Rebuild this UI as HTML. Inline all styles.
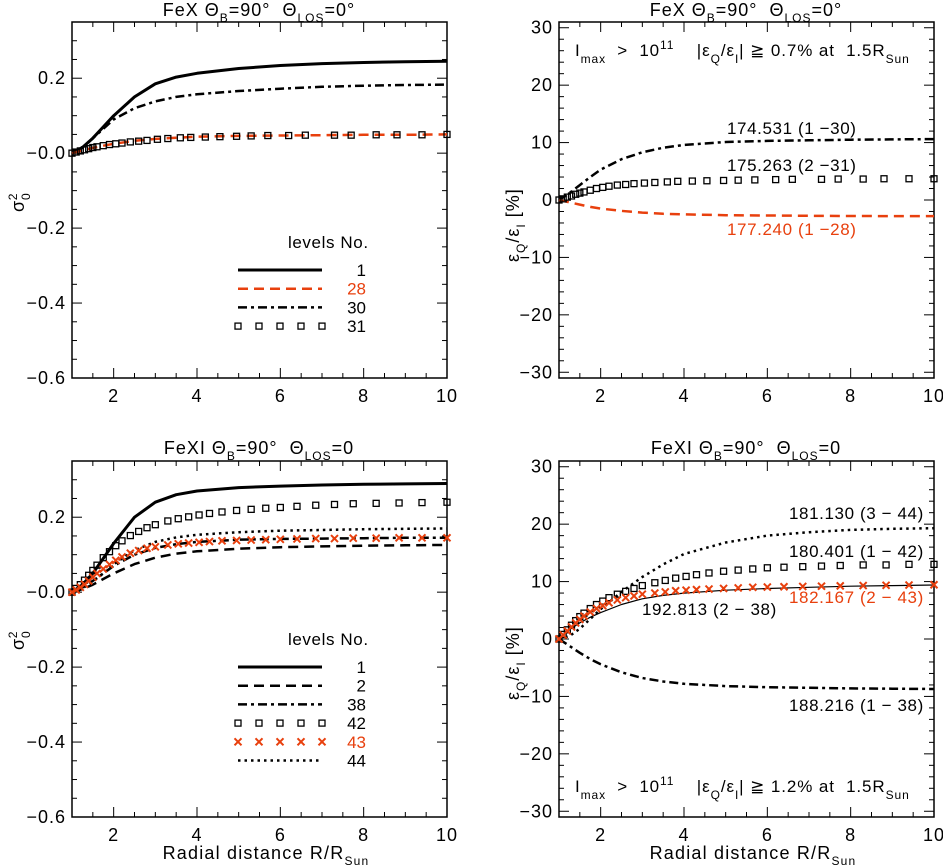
<!DOCTYPE html>
<html><head><meta charset="utf-8"><style>
html,body{margin:0;padding:0;background:#fff;}
svg{display:block;font-family:"Liberation Sans",sans-serif;}
svg text{white-space:pre;}
</style></head><body>
<svg id="fig" width="943" height="868" viewBox="0 0 943 868" xmlns="http://www.w3.org/2000/svg"></svg>
<script>
// ---------- data ----------
const xGrid = [1,1.25,1.5,1.75,2,2.5,3,3.5,4,5,6,7,8,9,10];
const mkX = [1,1.1,1.2,1.3,1.4,1.5,1.6,1.75,1.9,2.05,2.2,2.4,2.6,2.8,3.05,3.3,3.6,3.85,4.2,4.55,4.95,5.3,5.7,6.2,6.6,7.3,7.7,8.3,8.8,9.4,10];
const mkX2 = [1,1.1,1.2,1.3,1.4,1.5,1.6,1.75,1.9,2.05,2.2,2.4,2.6,2.8,3.0,3.3,3.55,3.8,4.05,4.3,4.6,4.95,5.3,5.65,6.0,6.4,6.85,7.3,7.75,8.3,8.85,9.4,10];

// top-left (FeX sigma)
const tl_lvl1  = [0,0.015,0.04,0.07,0.1,0.15,0.185,0.203,0.213,0.226,0.234,0.239,0.242,0.244,0.245];
const tl_lvl28 = [0,0.007,0.014,0.02,0.025,0.033,0.038,0.041,0.044,0.046,0.047,0.048,0.049,0.049,0.05];
const tl_lvl30 = [0,0.015,0.04,0.065,0.09,0.12,0.138,0.15,0.157,0.166,0.172,0.177,0.18,0.182,0.183];
const tl_sq = [0,0.003,0.006,0.009,0.012,0.015,0.017,0.02,0.023,0.025,0.027,0.03,0.032,0.034,0.037,0.039,0.041,0.042,0.043,0.044,0.045,0.046,0.047,0.047,0.048,0.048,0.048,0.049,0.049,0.049,0.05];

// top-right (FeX polarization %)
const tr_174 = [0,1.2,2.6,4.0,5.3,7.1,8.3,9.1,9.6,10.1,10.3,10.4,10.5,10.55,10.6];
const tr_177 = [0,-0.4,-0.8,-1.2,-1.5,-1.9,-2.2,-2.4,-2.5,-2.65,-2.7,-2.75,-2.78,-2.8,-2.8];
const tr_sq = [0,0.2,0.5,0.7,1.0,1.2,1.4,1.7,2.0,2.2,2.4,2.6,2.7,2.85,2.95,3.05,3.15,3.25,3.3,3.35,3.4,3.45,3.5,3.55,3.6,3.6,3.65,3.65,3.7,3.7,3.7];

// bottom-left (FeXI sigma)
const bl_lvl1  = [0,0.02,0.05,0.09,0.13,0.2,0.24,0.26,0.27,0.279,0.283,0.286,0.288,0.289,0.29];
const bl_lvl2  = [0,0.008,0.02,0.035,0.05,0.075,0.092,0.103,0.109,0.116,0.12,0.122,0.124,0.125,0.126];
const bl_lvl38 = [0,0.012,0.03,0.05,0.07,0.1,0.118,0.128,0.134,0.14,0.142,0.143,0.144,0.145,0.145];
const bl_lvl44 = [0,0.01,0.028,0.05,0.075,0.112,0.134,0.146,0.153,0.16,0.164,0.166,0.168,0.169,0.17];
const bl_sq = [0,0.01,0.02,0.032,0.045,0.058,0.072,0.092,0.108,0.124,0.137,0.151,0.162,0.172,0.18,0.19,0.196,0.201,0.206,0.21,0.214,0.218,0.221,0.224,0.226,0.229,0.232,0.234,0.236,0.237,0.238,0.239,0.24];
const bl_x  = [0,0.006,0.013,0.021,0.03,0.04,0.05,0.062,0.074,0.085,0.094,0.104,0.111,0.117,0.121,0.126,0.129,0.131,0.133,0.135,0.137,0.138,0.139,0.14,0.141,0.142,0.143,0.143,0.144,0.144,0.145,0.145,0.145];

// bottom-right (FeXI polarization %)
const br_181 = [0,0.5,1.8,3.5,5.2,8.2,10.8,13,14.8,16.8,18,18.6,19,19.2,19.3];
const br_188 = [0,-1.2,-2.4,-3.5,-4.4,-5.8,-6.8,-7.4,-7.8,-8.2,-8.4,-8.5,-8.6,-8.65,-8.7];
const br_192 = [0,1.6,2.8,3.8,4.6,6.0,7.0,7.6,8.0,8.5,8.8,9.0,9.2,9.3,9.4];
const br_sq = [0,0.8,1.6,2.4,3.2,3.9,4.5,5.3,6.0,6.6,7.2,7.8,8.3,8.8,9.3,9.8,10.2,10.6,10.9,11.2,11.5,11.8,12.0,12.2,12.4,12.5,12.6,12.7,12.8,12.9,12.9,13.0,13.0];
const br_x = [0,0.7,1.4,2.1,2.8,3.4,4.0,4.7,5.3,5.8,6.3,6.8,7.2,7.5,7.8,8.0,8.2,8.4,8.5,8.6,8.7,8.8,8.9,9.0,9.05,9.1,9.15,9.2,9.25,9.3,9.35,9.4,9.45];

// ---------- drawing ----------
const NS="http://www.w3.org/2000/svg";
const svg=document.getElementById('fig');
function el(tag,attrs,parent){const e=document.createElementNS(NS,tag);for(const k in attrs)e.setAttribute(k,attrs[k]);(parent||svg).appendChild(e);return e;}

function makePanel(p){
  const g=el('g',{});
  
  
  const sx=x=>p.x0+(x-1)/9*(p.x1-p.x0);
  const sy=y=>p.y1-(y-p.ymin)/(p.ymax-p.ymin)*(p.y1-p.y0);
  p.sx=sx;p.sy=sy;p.g=g;
  const fr=el('rect',{x:p.x0,y:p.y0,width:p.x1-p.x0,height:p.y1-p.y0,fill:'none',stroke:'#000','stroke-width':1.5},g);
  
  for(let v=1.5;v<10;v+=0.5){
    const major=Math.abs(v/2-Math.round(v/2))<1e-6;
    const L=major?10:5;const X=sx(v);
    el('line',{x1:X,y1:p.y1,x2:X,y2:p.y1-L,stroke:'#000','stroke-width':1},g);
    el('line',{x1:X,y1:p.y0,x2:X,y2:p.y0+L,stroke:'#000','stroke-width':1},g);
  }
  [2,4,6,8,10].forEach(v=>{
    const t=el('text',{x:sx(v),y:p.y1+24,'text-anchor':'middle','font-size':18,'letter-spacing':1},g);t.textContent=v;
    
  });
  const n=Math.round((p.ymax-p.ymin)/p.minor);
  for(let i=0;i<=n;i++){
    const v=p.tickStart+i*p.minor; if(v<p.ymin-1e-9||v>p.ymax+1e-9)continue;
    const major=Math.abs(v/p.major-Math.round(v/p.major))<1e-6;
    const L=major?10:5;const Y=sy(v);
    el('line',{x1:p.x0,y1:Y,x2:p.x0+L,y2:Y,stroke:'#000','stroke-width':1},g);
    el('line',{x1:p.x1,y1:Y,x2:p.x1-L,y2:Y,stroke:'#000','stroke-width':1},g);
  }
  p.yLabels.forEach((s,i)=>{
    const t=el('text',{x:p.x0-6,y:sy(p.yTicks[i])+6,'text-anchor':'end','font-size':18,'letter-spacing':1},g);t.textContent=s;
    
  });
  return p;
}
function line(p,xs,ys,style,name){
  const d=xs.map((x,i)=>(i?'L':'M')+p.sx(x).toFixed(1)+','+p.sy(ys[i]).toFixed(1)).join(' ');
  const e=el('path',Object.assign({d:d,fill:'none','stroke-linecap':'butt','stroke-linejoin':'round'},style),p.g);
  
}
function squares(p,xs,ys,name){
  const g=el('g',{},p.g);
  xs.forEach((x,i)=>{el('rect',{x:p.sx(x)-3,y:p.sy(ys[i])-3,width:6,height:6,fill:'none',stroke:'#000','stroke-width':1.3},g);});
}
function crosses(p,xs,ys,name){
  const g=el('g',{},p.g);
  xs.forEach((x,i)=>{const X=p.sx(x),Y=p.sy(ys[i]);
    el('path',{d:`M${X-3.5},${Y-3.5}L${X+3.5},${Y+3.5}M${X-3.5},${Y+3.5}L${X+3.5},${Y-3.5}`,stroke:'#e8400e','stroke-width':2},g);});
}
function text(x,y,html,attrs,name){
  const t=el('text',Object.assign({x:x,y:y,'font-size':17,'letter-spacing':0.6},attrs||{}));t.innerHTML=html;
  return t;
}
const RED='#e8400e';
const SOLID={stroke:'#000','stroke-width':3};
const DASH={stroke:'#000','stroke-width':2.5,'stroke-dasharray':'10,6'};
const RDASH={stroke:RED,'stroke-width':2.5,'stroke-dasharray':'10,6'};
const DDOT={stroke:'#000','stroke-width':2.5,'stroke-dasharray':'9,4,3,4'};
const DOT={stroke:'#000','stroke-width':2.5,'stroke-dasharray':'2.5,4'};

const sigLab=['−0.6','−0.4','−0.2','−0.0','0.2'], sigT=[-0.6,-0.4,-0.2,0,0.2];
const pLab=['−30','−20','−10','0','10','20','30'], pT=[-30,-20,-10,0,10,20,30];

const TL=makePanel({name:'panel-fex-sigma',x0:72,x1:447,y0:22,y1:378,ymin:-0.6,ymax:0.35,minor:0.05,major:0.2,tickStart:-0.6,yLabels:sigLab,yTicks:sigT});
const TR=makePanel({name:'panel-fex-polarization',x0:559,x1:934,y0:22,y1:378,ymin:-31,ymax:31,minor:2,major:10,tickStart:-30,yLabels:pLab,yTicks:pT});
const BL=makePanel({name:'panel-fexi-sigma',x0:72,x1:447,y0:461,y1:817,ymin:-0.6,ymax:0.35,minor:0.05,major:0.2,tickStart:-0.6,yLabels:sigLab,yTicks:sigT});
const BR=makePanel({name:'panel-fexi-polarization',x0:559,x1:934,y0:461,y1:817,ymin:-31,ymax:31,minor:2,major:10,tickStart:-30,yLabels:pLab,yTicks:pT});

line(TL,xGrid,tl_lvl1,SOLID,'series-level-1');
line(TL,xGrid,tl_lvl30,DDOT,'series-level-30');
line(TL,xGrid,tl_lvl28,RDASH,'series-level-28');
squares(TL,mkX,tl_sq,'series-level-31');

line(TR,xGrid,tr_174,DDOT,'series-174-531');
line(TR,xGrid,tr_177,RDASH,'series-177-240');
squares(TR,mkX,tr_sq,'series-175-263');

line(BL,xGrid,bl_lvl1,SOLID,'series-level-1');
line(BL,xGrid,bl_lvl2,DASH,'series-level-2');
line(BL,xGrid,bl_lvl38,DDOT,'series-level-38');
line(BL,xGrid,bl_lvl44,DOT,'series-level-44');
squares(BL,mkX2,bl_sq,'series-level-42');
crosses(BL,mkX2,bl_x,'series-level-43');

line(BR,xGrid,br_181,DOT,'series-181-130');
line(BR,xGrid,br_188,DDOT,'series-188-216');
line(BR,xGrid,br_192,{stroke:'#000','stroke-width':1.2},'series-192-813');
squares(BR,mkX2,br_sq,'series-180-401');
crosses(BR,mkX2,br_x,'series-182-167');

// titles
const th='<tspan>FeX Θ</tspan><tspan font-size="12" dy="6">B</tspan><tspan dy="-6">=90°  Θ</tspan><tspan font-size="12" dy="6">LOS</tspan><tspan dy="-6">=0°</tspan>';
text(259,16,th,{'text-anchor':'middle','font-size':18,'letter-spacing':1},'title-fex-sigma');
text(746,16,th,{'text-anchor':'middle','font-size':18,'letter-spacing':1},'title-fex-polarization');
const th2='<tspan>FeXI Θ</tspan><tspan font-size="12" dy="6">B</tspan><tspan dy="-6">=90°  Θ</tspan><tspan font-size="12" dy="6">LOS</tspan><tspan dy="-6">=0</tspan>';
text(259,454,th2,{'text-anchor':'middle','font-size':18,'letter-spacing':1},'title-fexi-sigma');
text(746,454,th2,{'text-anchor':'middle','font-size':18,'letter-spacing':1},'title-fexi-polarization');

const xt='Radial distance R/R<tspan font-size="12" dy="6">Sun</tspan>';
text(266,859,xt,{'text-anchor':'middle','font-size':18,'letter-spacing':1.2},'x-axis-title-left');
text(753,859,xt,{'text-anchor':'middle','font-size':18,'letter-spacing':1.2},'x-axis-title-right');
const sg='σ<tspan font-size="12" dy="-7">2</tspan><tspan font-size="12" dy="13" dx="-7">0</tspan>';
text(0,0,sg,{'transform':'translate(24,212) rotate(-90)','font-size':18},'y-axis-title-top-left');
text(0,0,sg,{'transform':'translate(24,650) rotate(-90)','font-size':18},'y-axis-title-bottom-left');
const ep='ε<tspan font-size="12" dy="6">Q</tspan><tspan dy="-6">/ε</tspan><tspan font-size="12" dy="6">I</tspan><tspan dy="-6"> [%]</tspan>';
text(0,0,ep,{'transform':'translate(519,262) rotate(-90)','font-size':18,'letter-spacing':1},'y-axis-title-top-right');
text(0,0,ep,{'transform':'translate(519,700) rotate(-90)','font-size':18,'letter-spacing':1},'y-axis-title-bottom-right');

const ann=v=>'I<tspan font-size="12" dy="7">max</tspan><tspan dy="-7">  &gt;  10</tspan><tspan font-size="12" dy="-7">11</tspan><tspan dy="7">    |ε</tspan><tspan font-size="12" dy="7">Q</tspan><tspan dy="-7">/ε</tspan><tspan font-size="12" dy="7">I</tspan><tspan dy="-7">| ≧ '+v+'% at  1.5R</tspan><tspan font-size="12" dy="7">Sun</tspan>';
text(575,56,ann('0.7'),{'font-size':17,'letter-spacing':0.9},'threshold-note-fex');
text(575,792,ann('1.2'),{'font-size':17,'letter-spacing':0.9},'threshold-note-fexi');
text(727,134,'174.531 (1 −30)',{},'label-174-531');
text(727,171,'175.263 (2 −31)',{},'label-175-263');
text(727,235,'177.240 (1 −28)',{fill:RED},'label-177-240');
text(789,519,'181.130 (3 − 44)',{},'label-181-130');
text(789,557,'180.401 (1 − 42)',{},'label-180-401');
text(789,603,'182.167 (2 − 43)',{fill:RED},'label-182-167');
text(642,615,'192.813 (2 − 38)',{},'label-192-813');
text(789,711,'188.216 (1 − 38)',{},'label-188-216');

function legend(x0,x1,nx,yHead,rows,name){
  const g=el('g',{});
  const h=el('text',{x:288,y:yHead,'font-size':17,'letter-spacing':0.6},g);h.textContent='levels No.';
  rows.forEach((r,i)=>{
    const y=yHead+22+i*18.7;
    const e=el('g',{},g);
    if(r.type==='sq'){for(let k=0;k<5;k++)el('rect',{x:x0+k*21-3,y:y-3,width:6,height:6,fill:'none',stroke:'#000','stroke-width':1.3},e);}
    else if(r.type==='x'){for(let k=0;k<5;k++){const X=x0+k*21;el('path',{d:`M${X-3.5},${y-3.5}L${X+3.5},${y+3.5}M${X-3.5},${y+3.5}L${X+3.5},${y-3.5}`,stroke:RED,'stroke-width':2},e);}}
    else el('line',Object.assign({x1:x0,y1:y,x2:x1,y2:y},r.style),e);
    const t=el('text',{x:nx,y:y+6,'text-anchor':'end','font-size':17,fill:r.red?RED:'#000'},e);t.textContent=r.n;
  });
}
legend(238,322,366,248,[{n:'1',style:SOLID},{n:'28',style:RDASH,red:1},{n:'30',style:DDOT},{n:'31',type:'sq'}],'legend-fex');
legend(238,322,366,645,[{n:'1',style:SOLID},{n:'2',style:DASH},{n:'38',style:DDOT},{n:'42',type:'sq'},{n:'43',type:'x',red:1},{n:'44',style:DOT}],'legend-fexi');
</script>
</body></html>
